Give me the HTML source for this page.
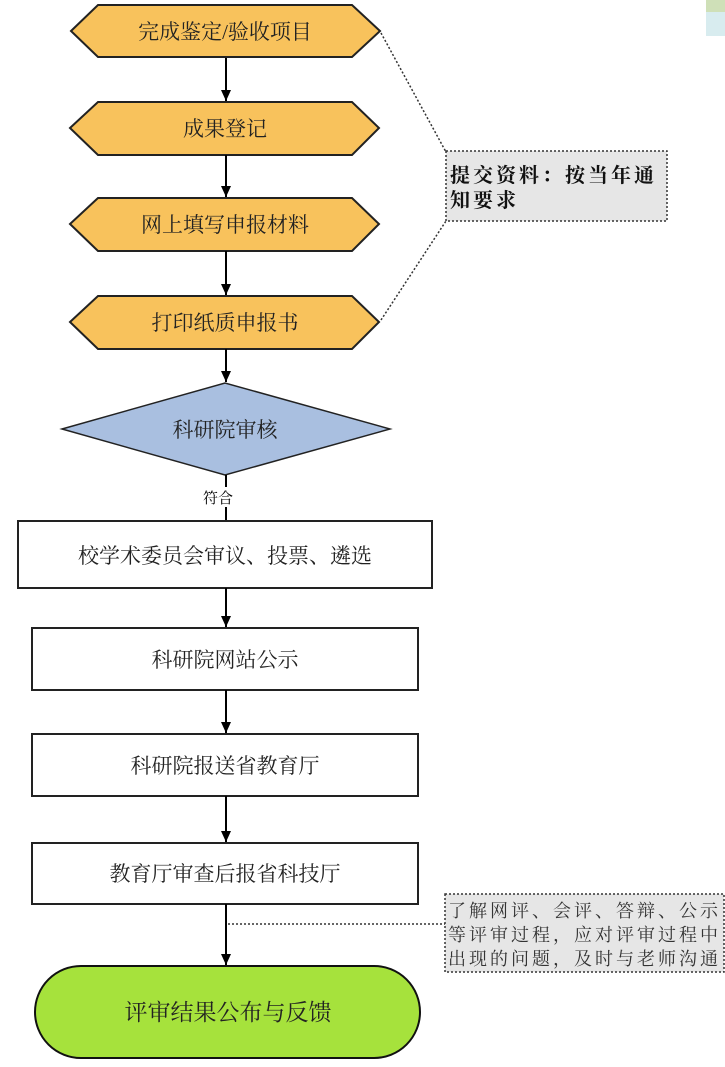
<!DOCTYPE html>
<html><head><meta charset="utf-8"><style>
body{margin:0;background:#fff;width:725px;height:1062px;overflow:hidden}
svg text{font-family:"Liberation Serif","Noto Serif CJK SC","Noto Sans CJK SC",serif}
</style></head><body>
<svg width="725" height="1062" xmlns="http://www.w3.org/2000/svg">
<defs><marker id="a" markerWidth="12" markerHeight="12" refX="11" refY="5" orient="auto" markerUnits="userSpaceOnUse"><path d="M0,0 L11,5 L0,10 z" fill="#000"/></marker></defs>
<rect x="706" y="0" width="19" height="12" fill="#cfe0b8"/>
<rect x="706" y="12" width="19" height="24" fill="#d8ecef"/>
<g stroke="#222" stroke-width="2" fill="#f8c25c">
<polygon points="71,31 98,5 352,5 380,31 352,57 98,57"/>
<polygon points="70,128 98,102 352,102 379,128 352,155 98,155"/>
<polygon points="70,224 98,198 352,198 379,224 352,251 98,251"/>
<polygon points="70,322 98,296 352,296 379,322 352,349 98,349"/>
</g>
<polygon points="62,429 225,383 390,429 225,475" fill="#a9bfe0" stroke="#222" stroke-width="1.5"/>
<g stroke="#222" stroke-width="2" fill="#fff">
<rect x="18" y="521" width="414" height="67"/>
<rect x="32" y="628" width="386" height="62"/>
<rect x="32" y="734" width="386" height="62"/>
<rect x="32" y="843" width="386" height="61"/>
</g>
<rect x="35" y="966" width="385" height="92" rx="46" fill="#a6e23c" stroke="#111" stroke-width="2"/>
<g stroke="#000" stroke-width="2" marker-end="url(#a)">
<line x1="226" y1="58" x2="226" y2="101"/>
<line x1="226" y1="155" x2="226" y2="197"/>
<line x1="226" y1="251" x2="226" y2="295"/>
<line x1="226" y1="349" x2="226" y2="382"/>
<line x1="226" y1="588" x2="226" y2="627"/>
<line x1="226" y1="690" x2="226" y2="733"/>
<line x1="226" y1="796" x2="226" y2="842"/>
<line x1="226" y1="904" x2="226" y2="965"/>
</g>
<line x1="226" y1="475" x2="226" y2="487" stroke="#000" stroke-width="2"/>
<line x1="226" y1="507" x2="226" y2="520" stroke="#000" stroke-width="2"/>
<g stroke="#333" stroke-width="1.5" stroke-dasharray="2,2" fill="none">
<line x1="381" y1="33" x2="446" y2="152"/>
<line x1="381" y1="320" x2="446" y2="221"/>
<line x1="228" y1="924" x2="445" y2="924"/>
</g>
<rect x="446" y="151" width="221" height="70" fill="#e6e6e6" stroke="#333" stroke-width="1.5" stroke-dasharray="2,2"/>
<rect x="445" y="894" width="279" height="78" fill="#e6e6e6" stroke="#333" stroke-width="1.5" stroke-dasharray="2,2"/>
<g font-size="21" text-anchor="middle" fill="#222">
<text x="225" y="39">完成鉴定/验收项目</text>
<text x="225" y="136">成果登记</text>
<text x="225" y="232">网上填写申报材料</text>
<text x="225" y="330">打印纸质申报书</text>
<text x="225" y="437">科研院审核</text>
<text x="225" y="563">校学术委员会审议、投票、遴选</text>
<text x="225" y="667">科研院网站公示</text>
<text x="225" y="773">科研院报送省教育厅</text>
<text x="225" y="881">教育厅审查后报省科技厅</text>
<text x="228" y="1020" font-size="23">评审结果公布与反馈</text>
</g>
<text x="218" y="503" font-size="15" text-anchor="middle">符合</text>
<g font-size="20" font-weight="bold" fill="#111" letter-spacing="3">
<text x="450" y="182">提交资料：按当年通</text>
<text x="450" y="207">知要求</text>
</g>
<g font-size="18" fill="#333" letter-spacing="3">
<text x="448" y="917">了解网评、会评、答辩、公示</text>
<text x="448" y="941">等评审过程，应对评审过程中</text>
<text x="448" y="965">出现的问题，及时与老师沟通</text>
</g>
</svg>
</body></html>
